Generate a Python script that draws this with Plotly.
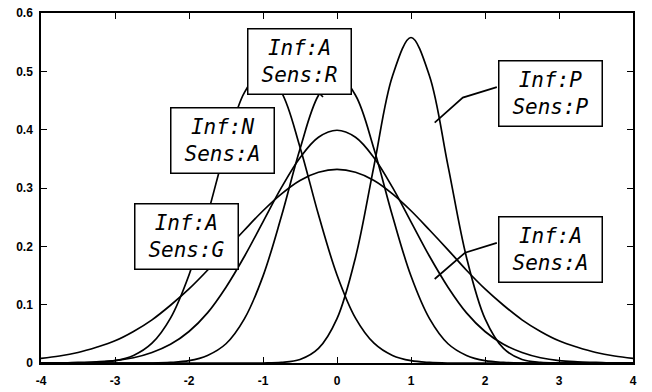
import plotly.graph_objects as go

# x grid (step 0.25)
x_vals = [-4 + 0.25 * i for i in range(33)]

# Inf:A Sens:G  (widest, peak ~0.332 at 0)
curve_AG = [0.008, 0.012, 0.018, 0.027, 0.038, 0.054, 0.074, 0.099, 0.127, 0.159, 0.194, 0.228, 0.261, 0.290, 0.313, 0.327,
            0.332,
            0.327, 0.313, 0.290, 0.261, 0.228, 0.194, 0.159, 0.127, 0.099, 0.074, 0.054, 0.038, 0.027, 0.018, 0.012, 0.008]
# Inf:A Sens:A  (peak ~0.399 at 0)
curve_AA = [0.000, 0.000, 0.001, 0.002, 0.004, 0.009, 0.018, 0.032, 0.054, 0.086, 0.130, 0.183, 0.242, 0.301, 0.352, 0.387,
            0.399,
            0.387, 0.352, 0.301, 0.242, 0.183, 0.130, 0.086, 0.054, 0.032, 0.018, 0.009, 0.004, 0.002, 0.001, 0.000, 0.000]
# Inf:A Sens:R  (peak ~0.495 at 0)
curve_AR = [0.000, 0.000, 0.000, 0.000, 0.000, 0.000, 0.000, 0.001, 0.004, 0.013, 0.033, 0.076, 0.149, 0.252, 0.367, 0.459,
            0.495,
            0.459, 0.367, 0.252, 0.149, 0.076, 0.033, 0.013, 0.004, 0.001, 0.000, 0.000, 0.000, 0.000, 0.000, 0.000, 0.000]
# Inf:N Sens:A  (peak ~0.5 at -1)
curve_NA = [0.000, 0.000, 0.000, 0.001, 0.004, 0.013, 0.034, 0.077, 0.151, 0.254, 0.370, 0.464,
            0.500,
            0.464, 0.370, 0.254, 0.151, 0.077, 0.034, 0.013, 0.004, 0.001, 0.000, 0.000, 0.000, 0.000, 0.000, 0.000,
            0.000, 0.000, 0.000, 0.000, 0.000]
# Inf:P Sens:P  (peak ~0.558 at 1)
curve_PP = [0.000, 0.000, 0.000, 0.000, 0.000, 0.000, 0.000, 0.000, 0.000, 0.000, 0.000, 0.000, 0.000, 0.001, 0.006, 0.025,
            0.076, 0.181, 0.338, 0.492,
            0.558,
            0.492, 0.338, 0.181, 0.076, 0.025, 0.006, 0.001, 0.000, 0.000, 0.000, 0.000, 0.000]

x_ticks = [-4, -3, -2, -1, 0, 1, 2, 3, 4]
x_tick_text = ["-4", "-3", "-2", "-1", "0", "1", "2", "3", "4"]
y_ticks = [0, 0.1, 0.2, 0.3, 0.4, 0.5, 0.6]
y_tick_text = ["0", "0.1", "0.2", "0.3", "0.4", "0.5", "0.6"]

# label boxes: text, box centre (data), leader polyline (data)
labels = [
    ("Inf:A<br>Sens:R", -0.51, 0.517, [(-0.946, 0.533), (-0.662, 0.516), (-0.189, 0.456)]),
    ("Inf:N<br>Sens:A", -1.55, 0.382, [(-1.96, 0.398), (-1.65, 0.379), (-1.49, 0.358)]),
    ("Inf:A<br>Sens:G", -2.04, 0.217, [(-2.34, 0.232), (-1.99, 0.208), (-1.58, 0.170)]),
    ("Inf:P<br>Sens:P", 2.88, 0.462, [(2.16, 0.473), (1.70, 0.455), (1.32, 0.412)]),
    ("Inf:A<br>Sens:A", 2.89, 0.194, [(2.16, 0.206), (1.73, 0.189), (1.32, 0.144)]),
]

fig = go.Figure()
for ys in [curve_AG, curve_AA, curve_AR, curve_NA, curve_PP]:
    fig.add_trace(go.Scatter(x=x_vals, y=ys, mode="lines",
                             line=dict(color="black", width=1.7, shape="spline", smoothing=1.0),
                             showlegend=False, hoverinfo="skip"))

for text, cx, cy, pts in labels:
    path = "M " + " L ".join(f"{px},{py}" for px, py in pts)
    fig.add_shape(type="path", path=path, xref="x", yref="y",
                  line=dict(color="black", width=1.7))
    fig.add_annotation(x=cx, y=cy, xref="x", yref="y", text=text, showarrow=False,
                       xanchor="center", yanchor="middle",
                       font=dict(family="DejaVu Sans Mono", size=21, color="black", style="italic"),
                       bgcolor="white", bordercolor="black", borderwidth=1.5, borderpad=2,
                       width=98, height=60, align="center")

axis_common = dict(showline=True, linecolor="black", linewidth=1.5, mirror="ticks",
                   ticks="inside", ticklen=6, tickwidth=1.2, tickcolor="black",
                   showgrid=False, zeroline=False, automargin=False,
                   tickfont=dict(family="Liberation Sans", size=12, color="black", weight="bold"))

fig.update_xaxes(range=[-4, 4], tickvals=x_ticks, ticktext=x_tick_text,
                 ticklabelstandoff=6, **axis_common)
fig.update_yaxes(range=[0, 0.6], tickvals=y_ticks, ticktext=y_tick_text,
                 ticklabelstandoff=4, **axis_common)

fig.update_layout(width=652, height=392, margin=dict(l=41, r=19, t=13, b=29),
                  plot_bgcolor="white", paper_bgcolor="white")

fig.write_html("out.html", config={"displayModeBar": False},
               post_script="document.body.style.margin='0px';document.body.style.overflow='hidden';")
